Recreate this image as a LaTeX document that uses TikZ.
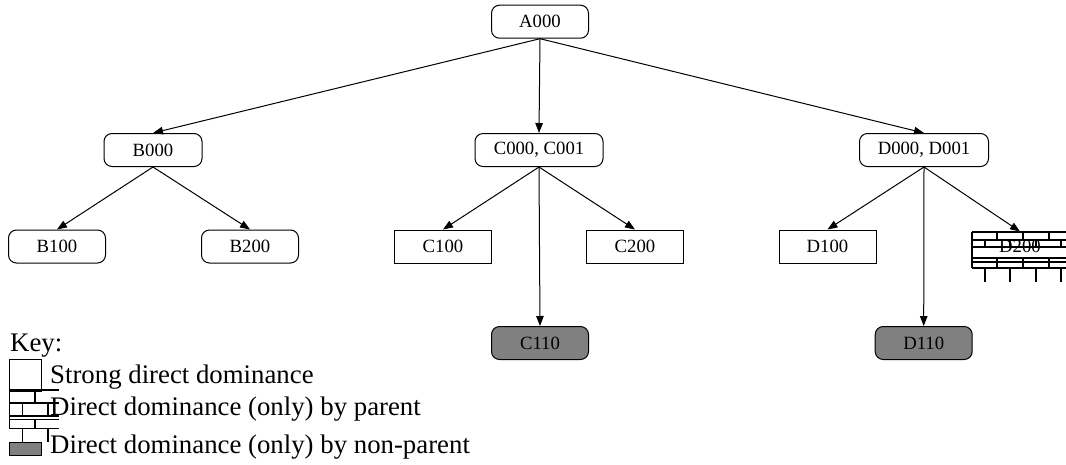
\documentclass[tikz,border=0pt]{standalone}
\usepackage{fontspec}
\setmainfont{Liberation Serif}
\usetikzlibrary{arrows.meta}
\definecolor{fillgray}{RGB}{128,128,128}
\begin{document}
\begin{tikzpicture}[x=1pt,y=-1pt,
  nd/.style={draw, line width=1pt, minimum width=97pt, minimum height=33pt, inner sep=0pt, font=\fontsize{18.7}{20}\selectfont},
  rnd/.style={nd, rounded corners=8pt},
  sq/.style={nd},
  grn/.style={rnd, fill=fillgray},
  plain/.style={nd, draw=none},
  conn/.style={line width=1pt, -{Triangle[length=10pt,width=7.5pt]}},
  keytext/.style={anchor=base west, inner sep=0pt, font=\fontsize{26.8}{30}\selectfont},
  brick/.style={line width=1.2pt}]
\useasboundingbox (0,0) rectangle (1066,464);
% nodes
\node[rnd] (A) at (540,21.7) {A000};
\node[rnd, minimum width=98pt] (B) at (153,150) {B000};
\node[rnd, minimum width=128pt] (C) at (539,150) {C000, C001};
\node[rnd, minimum width=129pt] (D) at (924,150) {D000, D001};
\node[rnd] (B1) at (57,246.5) {B100};
\node[rnd] (B2) at (250,246.5) {B200};
\node[sq] (C1) at (443,246.5) {C100};
\node[sq] (C2) at (635,246.5) {C200};
\node[sq] (D1) at (827.5,246.5) {D100};
\node[plain] (D2) at (1020,246.5) {D200};
\node[grn] (C11) at (540,343) {C110};
\node[grn] (D11) at (923.7,343) {D110};
% bricks for D200
\begin{scope}[brick]
  \foreach \yy in {232,240,247,258,262,268} \draw (972,\yy) -- (1067,\yy);
  \draw (972,232) -- (972,268);
  \foreach \xx in {997,1023,1049} \draw (\xx,232) -- (\xx,240);
  \foreach \xx in {985,1010,1036,1061} \draw (\xx,240) -- (\xx,247);
  \foreach \xx in {997,1023,1049} \draw (\xx,258) -- (\xx,268);
  \foreach \xx in {985,1010,1036,1061} \draw (\xx,268) -- (\xx,282);
\end{scope}
% edges
\draw[conn] (A.south) -- (B.north);
\draw[conn] (A.south) -- (C.north);
\draw[conn] (A.south) -- (D.north);
\draw[conn] (B.south) -- (B1.north);
\draw[conn] (B.south) -- (B2.north);
\draw[conn] (C.south) -- (C1.north);
\draw[conn] (C.south) -- (C2.north);
\draw[conn] (C.south) -- (C11.north);
\draw[conn] (D.south) -- (D1.north);
\draw[conn] (D.south) -- (D11.north);
\draw[conn] (D.south) -- ([yshift=-2pt]D2.north);
% key
\node[keytext] (key) at (10,351) {Key:};
\draw[line width=1pt] (9.5,359) rectangle (41.5,391);
\node[keytext] (k1) at (50,383.3) {Strong direct dominance};
\begin{scope}[brick]
  \draw (9.5,390) -- (59,390);
  \draw (9.5,403) -- (59,403);
  \draw (9.5,416) -- (59,416);
  \draw (9.5,419.5) -- (59,419.5);
  \draw (9.5,428.5) -- (59,428.5);
  \draw (9.5,390) -- (9.5,428.5);
  \draw (35,390) -- (35,403);
  \draw (22.7,403) -- (22.7,416);
  \draw (48,403) -- (48,416);
  \draw (35,419.5) -- (35,428.5);
  \draw (22.7,428.5) -- (22.7,442);
  \draw (48,428.5) -- (48,442);
\end{scope}
\node[keytext] (k2) at (50,415.7) {Direct dominance (only) by parent};
\draw[line width=1pt, fill=fillgray] (9.5,442.5) rectangle (41.5,455);
\node[keytext] (k3) at (50,453.3) {Direct dominance (only) by non-parent};
\end{tikzpicture}
\end{document}
